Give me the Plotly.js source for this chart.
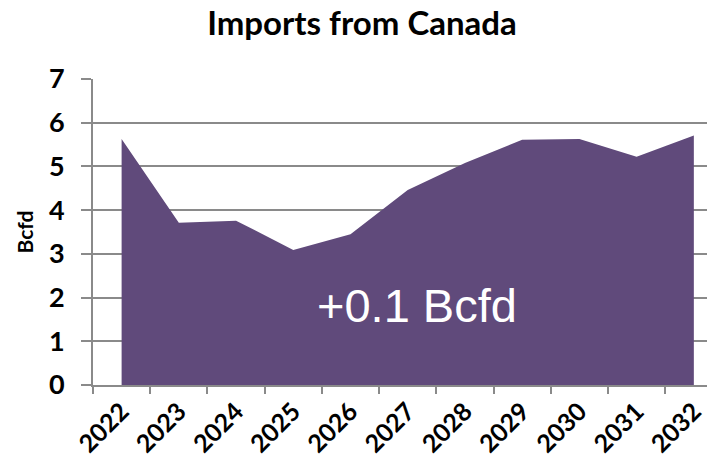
<!DOCTYPE html>
<html>
<head>
<meta charset="utf-8">
<script src="https://cdn.plot.ly/plotly-3.0.1.min.js"></script>
<style>html,body{margin:0;padding:0;background:#fff;}#chart{width:707px;height:469px;}</style>
</head>
<body>
<div id="chart"></div>
<script>
const years = ["2022","2023","2024","2025","2026","2027","2028","2029","2030","2031","2032"];
const importsBcfd = [5.63, 3.71, 3.76, 3.09, 3.45, 4.46, 5.08, 5.61, 5.63, 5.22, 5.71];
const yTicks = [0, 1, 2, 3, 4, 5, 6, 7];
const chartTitle = "Imports from Canada";
const yTitle = "Bcfd";
const noteText = "+0.1 Bcfd";

const trace = {
  type: "scatter",
  mode: "lines",
  x: years,
  y: importsBcfd,
  fill: "tozeroy",
  fillcolor: "#604A7B",
  line: {width: 0, color: "#604A7B"},
  hoverinfo: "x+y"
};

const gray = "#8A8A8A";
const layout = {
  width: 707,
  height: 469,
  margin: {l: 93, r: 0, t: 79, b: 84, pad: 0},
  paper_bgcolor: "#ffffff",
  plot_bgcolor: "#ffffff",
  showlegend: false,
  font: {family: "Lato, 'Open Sans', sans-serif", color: "#000"},
  title: {
    text: "<b>" + chartTitle + "</b>",
    font: {family: "Lato, sans-serif", size: 33, color: "#000"},
    x: 0.512, xanchor: "center",
    y: 0.95, yanchor: "middle"
  },
  xaxis: {
    type: "category",
    range: [-0.5, 10.23],
    showgrid: false,
    showline: true,
    linecolor: gray,
    linewidth: 2,
    ticks: "outside",
    tickson: "boundaries",
    ticklen: 7,
    tickwidth: 2,
    tickcolor: gray,
    tickangle: -45,
    tickfont: {family: "Lato, sans-serif", size: 25, color: "#000", weight: "bold"},
    fixedrange: true
  },
  yaxis: {
    range: [0, 7],
    tickvals: yTicks,
    showgrid: true,
    gridcolor: gray,
    gridwidth: 2,
    showline: true,
    linecolor: gray,
    linewidth: 2,
    zeroline: false,
    ticks: "outside",
    ticklen: 10,
    tickwidth: 2,
    tickcolor: gray,
    ticklabelstandoff: 11,
    tickfont: {family: "Lato, sans-serif", size: 27, color: "#000", weight: "bold"},
    title: {
      text: "<b>" + yTitle + "</b>",
      font: {family: "Lato, sans-serif", size: 21, color: "#000"},
      standoff: 10
    },
    fixedrange: true
  },
  annotations: [{
    x: 5.17, y: 1.83, xref: "x", yref: "y",
    text: noteText,
    showarrow: false,
    font: {family: "'Liberation Sans', Arial, sans-serif", size: 47, color: "#ffffff"},
    xanchor: "center", yanchor: "middle"
  }]
};

Plotly.newPlot("chart", [trace], layout, {displayModeBar: false, staticPlot: true});
</script>
</body>
</html>
